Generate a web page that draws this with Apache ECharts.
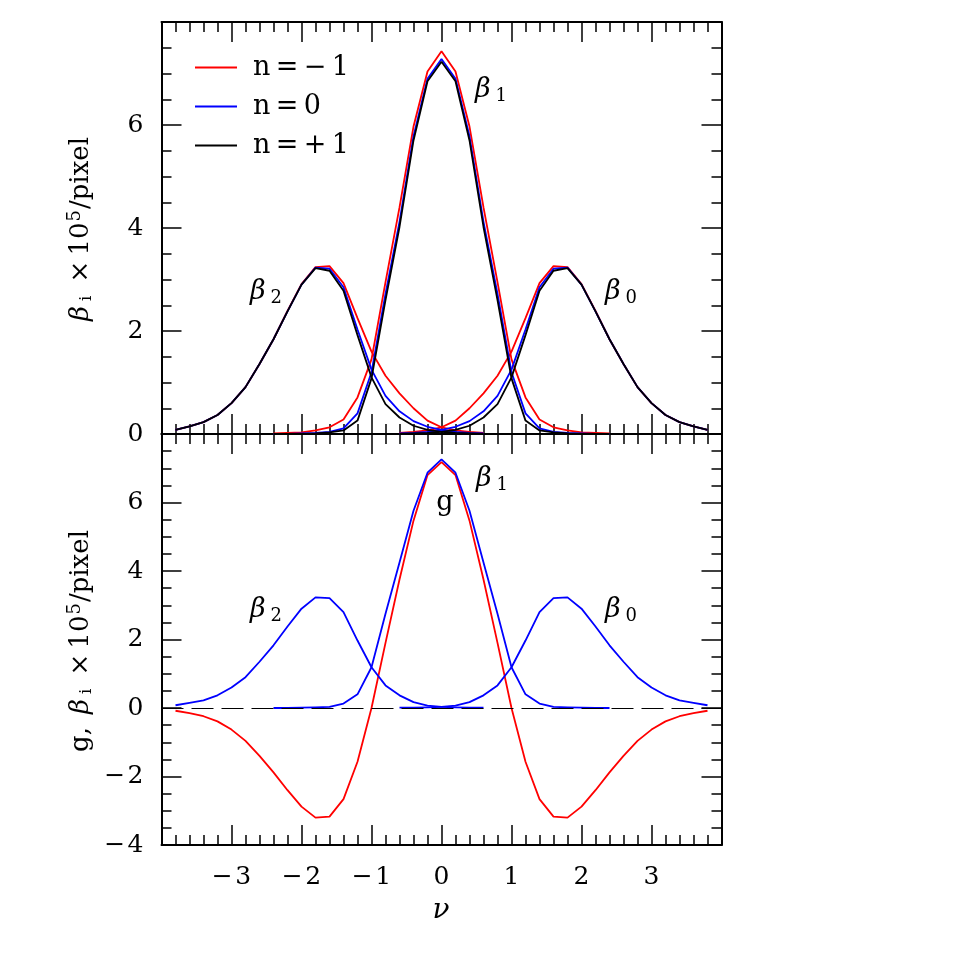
<!DOCTYPE html>
<html><head><meta charset="utf-8">
<script src="https://cdn.jsdelivr.net/npm/echarts@6/dist/echarts.min.js"></script>
<style>html,body{margin:0;padding:0;background:#fff}#c{width:963px;height:963px}</style>
</head><body><div id="c"></div><script>
// abscissa samples (nu)
const nu = [-3.8,-3.6,-3.4,-3.2,-3.0,-2.8,-2.6,-2.4,-2.2,-2.0,-1.8,-1.6,-1.4,-1.2,-1.0,-0.8,-0.6,-0.4,-0.2,0,
            0.2,0.4,0.6,0.8,1.0,1.2,1.4,1.6,1.8,2.0,2.2,2.4,2.6,2.8,3.0,3.2,3.4,3.6,3.8];
const _ = null;
// ---- top panel: n = -1 (red)
const topB2_nm1 = [0.08,0.15,0.23,0.37,0.60,0.91,1.36,1.84,2.39,2.91,3.24,3.26,2.93,2.25,1.60,1.13,0.79,0.50,0.26,0.13,0.07,0.04,0.02,_,_,_,_,_,_,_,_,_,_,_,_,_,_,_,_];
const topB1_nm1 = [_,_,_,_,_,_,_,0.01,0.02,0.03,0.07,0.13,0.28,0.71,1.45,2.95,4.40,5.97,7.04,7.43,7.04,5.97,4.40,2.95,1.45,0.71,0.28,0.13,0.07,0.03,0.02,0.01,_,_,_,_,_,_,_];
const topB0_nm1 = [_,_,_,_,_,_,_,_,_,_,_,_,_,_,_,_,0.02,0.04,0.07,0.13,0.26,0.50,0.79,1.13,1.60,2.25,2.93,3.26,3.24,2.91,2.39,1.84,1.36,0.91,0.60,0.37,0.23,0.15,0.08];
// ---- top panel: n = 0 (blue)
const topB2_n0 = [0.08,0.15,0.23,0.37,0.60,0.91,1.36,1.84,2.38,2.90,3.23,3.21,2.85,2.03,1.25,0.74,0.44,0.25,0.14,0.08,0.04,0.02,0.01,_,_,_,_,_,_,_,_,_,_,_,_,_,_,_,_];
const topB1_n0 = [_,_,_,_,_,_,_,0.00,0.00,0.01,0.02,0.04,0.11,0.40,1.20,2.72,4.12,5.78,6.90,7.28,6.90,5.78,4.12,2.72,1.20,0.40,0.11,0.04,0.02,0.01,0.00,0.00,_,_,_,_,_,_,_];
const topB0_n0 = [_,_,_,_,_,_,_,_,_,_,_,_,_,_,_,_,0.01,0.02,0.04,0.08,0.14,0.25,0.44,0.74,1.25,2.03,2.85,3.21,3.23,2.90,2.38,1.84,1.36,0.91,0.60,0.37,0.23,0.15,0.08];
// ---- top panel: n = +1 (black)
const topB2_np1 = [0.08,0.15,0.23,0.37,0.60,0.91,1.36,1.84,2.38,2.90,3.22,3.17,2.78,1.92,1.10,0.58,0.32,0.16,0.08,0.04,0.02,0.01,0.00,_,_,_,_,_,_,_,_,_,_,_,_,_,_,_,_];
const topB1_np1 = [_,_,_,_,_,_,_,0.00,0.00,0.00,0.01,0.03,0.07,0.26,1.08,2.60,4.02,5.70,6.85,7.23,6.85,5.70,4.02,2.60,1.08,0.26,0.07,0.03,0.01,0.00,0.00,0.00,_,_,_,_,_,_,_];
const topB0_np1 = [_,_,_,_,_,_,_,_,_,_,_,_,_,_,_,_,0.00,0.01,0.02,0.04,0.08,0.16,0.32,0.58,1.10,1.92,2.78,3.17,3.22,2.90,2.38,1.84,1.36,0.91,0.60,0.37,0.23,0.15,0.08];
// ---- bottom panel: beta_i (blue) and g (red)
const botB2 = [0.08,0.15,0.22,0.37,0.60,0.90,1.35,1.83,2.38,2.90,3.23,3.21,2.80,1.97,1.19,0.66,0.37,0.17,0.07,0.03,0.02,0.01,0.01,_,_,_,_,_,_,_,_,_,_,_,_,_,_,_,_];
const botB1 = [_,_,_,_,_,_,_,0.00,0.00,0.01,0.02,0.03,0.13,0.40,1.19,2.75,4.25,5.76,6.87,7.26,6.87,5.76,4.25,2.75,1.19,0.40,0.13,0.03,0.02,0.01,0.00,0.00,_,_,_,_,_,_,_];
const botB0 = [_,_,_,_,_,_,_,_,_,_,_,_,_,_,_,_,0.01,0.01,0.02,0.03,0.07,0.17,0.37,0.66,1.19,1.97,2.80,3.21,3.23,2.90,2.38,1.83,1.35,0.90,0.60,0.37,0.22,0.15,0.08];
const gVals = [-0.08,-0.15,-0.24,-0.39,-0.63,-0.96,-1.40,-1.88,-2.40,-2.88,-3.20,-3.17,-2.66,-1.57,0.00,1.90,3.75,5.47,6.80,7.18,6.80,5.47,3.75,1.90,0.00,-1.57,-2.66,-3.17,-3.20,-2.88,-2.40,-1.88,-1.40,-0.96,-0.63,-0.39,-0.24,-0.15,-0.08];
// tick values and legend entries
const xTicks = [-3,-2,-1,0,1,2,3];
const legendNames = ['n\u2009=\u2009\u2212\u20091','n\u2009=\u20090','n\u2009=\u2009+\u20091'];
const colors = ['#ff0000','#0000ff','#000000'];

const FONT = 'DejaVu Serif';
const pairs = arr => nu.map((x,i)=>[x,arr[i]]).filter(p=>p[1]!==null);
const fmtNum = v => (v<0 ? '\u2212\u200a'+Math.abs(v) : String(v));

const G = {left:161.5, right:241.5};
function xAx(grid, pos, labels){
  return {type:'value', gridIndex:grid, position:pos, min:-4, max:4, interval:1,
    axisLine:{show:true, onZero:false, lineStyle:{color:'#000', width:2}},
    axisTick:{show:true, inside:true, length:20, lineStyle:{color:'#000', width:1.5}},
    minorTick:{show:true, splitNumber:5, length:10, lineStyle:{color:'#000', width:1.5}},
    splitLine:{show:false}, minorSplitLine:{show:false},
    axisLabel:{show:labels, margin:20, fontFamily:FONT, fontSize:25, color:'#000',
      formatter: v => (xTicks.indexOf(v)>=0 ? fmtNum(v) : '')}};
}
function yAx(grid, pos, min, labels){
  return {type:'value', gridIndex:grid, position:pos, min:min, max:8, interval:2,
    axisLine:{show:true, onZero:false, lineStyle:{color:'#000', width:2}},
    axisTick:{show:true, inside:true, length:20, lineStyle:{color:'#000', width:1.5}},
    minorTick:{show:true, splitNumber:4, length:10, lineStyle:{color:'#000', width:1.5}},
    splitLine:{show:false}, minorSplitLine:{show:false},
    axisLabel:{show:labels, margin:18, fontFamily:FONT, fontSize:25, color:'#000',
      formatter: v => (v===8 ? '' : fmtNum(v))}};
}
function line(name, data, color, xi, yi, extra){
  return Object.assign({type:'line', name:name, data:pairs(data), xAxisIndex:xi, yAxisIndex:yi,
    showSymbol:false, symbol:'none', smooth:false, lineStyle:{color:color, width:1.8}, itemStyle:{color:color},
    emphasis:{disabled:true}}, extra||{});
}

const sub = {fontFamily:FONT, fontSize:18, padding:[12,0,0,5], lineHeight:18, fill:'#000'};
const bet = {fontFamily:FONT, fontStyle:'italic', fontSize:27, lineHeight:30, fill:'#000'};
function betaLabel(idx, x, y){
  return {type:'text', x:x, y:y, silent:true,
    style:{text:'{b|\u03b2}{s|'+idx+'}', align:'center', verticalAlign:'middle', rich:{b:bet, s:sub}}};
}
function yTitle(prefix, x, y){
  const t = {fontFamily:FONT, fontSize:26, lineHeight:30, fill:'#000'};
  return {type:'text', x:x, y:y, rotation:Math.PI/2, silent:true,
    style:{text:prefix+'{b|\u03b2}{s|i}{t|\u2002\u00d7\u200910}{p|5}{t|/pixel}', align:'center', verticalAlign:'middle',
      rich:{t:t, b:{fontFamily:FONT, fontStyle:'italic', fontSize:26, lineHeight:30, fill:'#000'},
        s:{fontFamily:FONT, fontSize:17, padding:[12,0,0,5], lineHeight:17, fill:'#000'},
        p:{fontFamily:FONT, fontSize:18, padding:[0,1,12,1], lineHeight:18, fill:'#000'}}}};
}

const series = [];
// top panel: red, then blue, then black on top
[[topB2_nm1,topB1_nm1,topB0_nm1],[topB2_n0,topB1_n0,topB0_n0],[topB2_np1,topB1_np1,topB0_np1]].forEach((set,k)=>{
  set.forEach(arr=>series.push(line(legendNames[k], arr, colors[k], 0, 0)));
});
// bottom panel
series.push(line('g', gVals, '#ff0000', 2, 2, {markLine:{silent:true, symbol:'none', label:{show:false},
  lineStyle:{color:'#000', width:1, type:[22,8]}, data:[{yAxis:0}]}}));
[botB2, botB1, botB0].forEach(arr=>series.push(line('beta', arr, '#0000ff', 2, 2)));

const chart = echarts.init(document.getElementById('c'), null, {renderer:'canvas'});
chart.setOption({
  animation:false,
  backgroundColor:'#fff',
  grid:[
    {left:G.left, right:G.right, top:22, height:412},
    {left:G.left, right:G.right, top:434, height:411}
  ],
  xAxis:[xAx(0,'bottom',false), xAx(0,'top',false), xAx(1,'bottom',true), xAx(1,'top',false)],
  yAxis:[yAx(0,'left',0,true), yAx(0,'right',0,false), yAx(1,'left',-4,true), yAx(1,'right',-4,false)],
  legend:{data:legendNames, orient:'vertical', left:190, top:49, icon:'rect', itemWidth:42, itemHeight:2, itemGap:12,
    selectedMode:false, textStyle:{fontFamily:FONT, fontSize:27, color:'#000', padding:[0,0,0,11]}},
  series:series,
  graphic:[
    betaLabel(1, 491, 90), betaLabel(2, 266, 292), betaLabel(0, 621, 292),
    betaLabel(1, 492, 479), betaLabel(2, 266, 610), betaLabel(0, 621, 610),
    {type:'text', x:445, y:503, silent:true, style:{text:'g', fontFamily:FONT, fontSize:27, fill:'#000', align:'center', verticalAlign:'middle'}},
    yTitle('', 81, 229),
    yTitle('{t|g,\u2002}', 81, 641),
    {type:'text', x:441, y:911, silent:true, style:{text:'\u03bd', fontFamily:FONT, fontStyle:'italic', fontSize:28, fill:'#000', align:'center', verticalAlign:'middle'}}
  ]
});
</script></body></html>
